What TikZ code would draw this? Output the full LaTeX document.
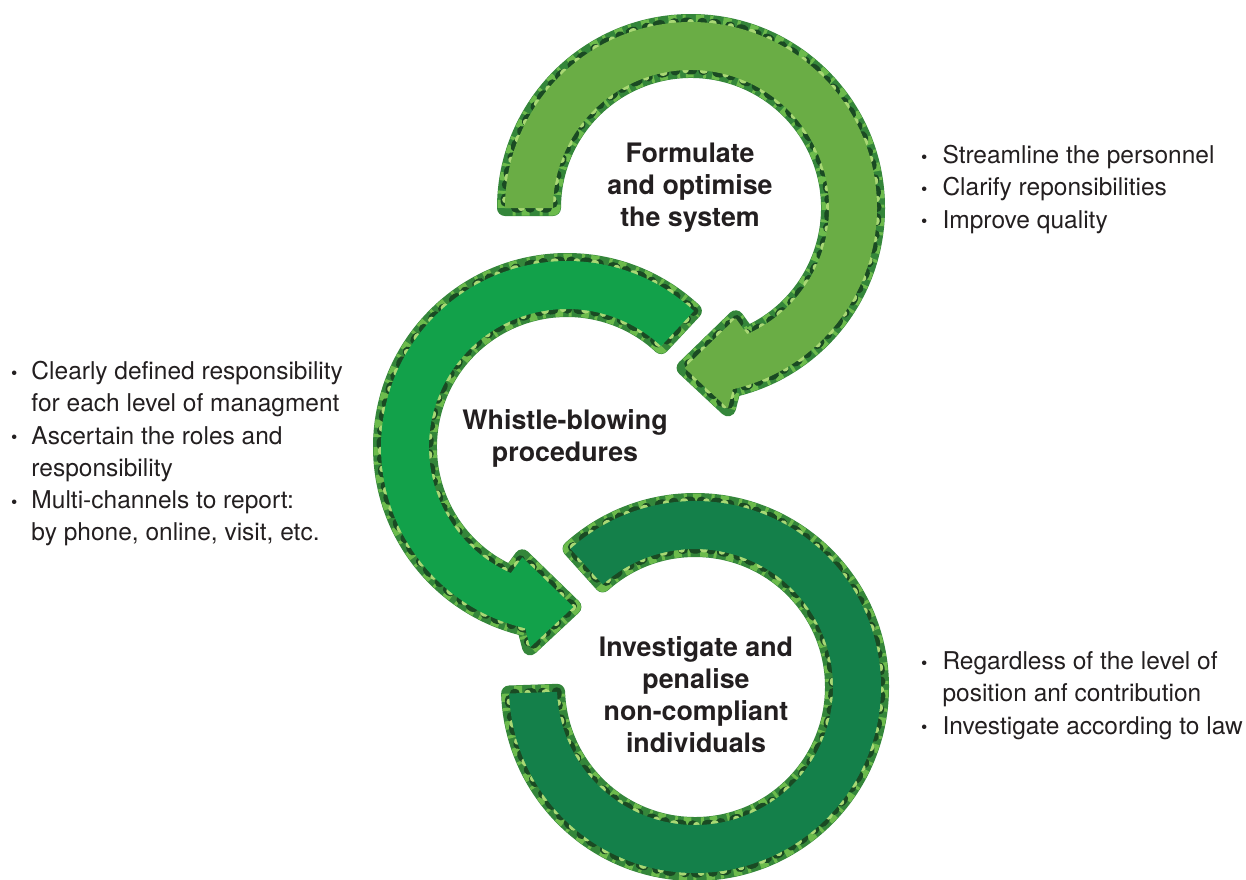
\documentclass[tikz,border=0pt]{standalone}
\usepackage{fontspec}
\setmainfont{TeX Gyre Heros}
\definecolor{fillone}{HTML}{6AAD45}
\definecolor{filltwo}{HTML}{12A14A}
\definecolor{fillthree}{HTML}{14804A}
\definecolor{lfA}{HTML}{34863A}
\definecolor{lfB}{HTML}{6CBB4C}
\definecolor{lfC}{HTML}{1A4A23}
\definecolor{lfD}{HTML}{A9D874}
\definecolor{ink}{HTML}{231F20}
\newcommand\bl{\raisebox{0.5pt}{\fontsize{18}{18}\selectfont\textbullet}}
\begin{document}
\begin{tikzpicture}[x=1pt,y=-1pt,
  leafa/.style={draw=lfA,line width=16pt,line join=round},
  leafb/.style={draw=lfB,line width=15pt,line join=round,dash pattern=on 8pt off 6pt on 3pt off 10pt},
  leafc/.style={draw=lfC,line width=9pt,line join=round,line cap=round,dash pattern=on 1pt off 10pt on 4pt off 13pt,dash phase=5pt},
  leafd/.style={draw=lfD,line width=6pt,line join=round,line cap=round,dash pattern=on 2pt off 17pt on 0.5pt off 21pt,dash phase=11pt},
  bodyone/.style={fill=fillone},
  bodytwo/.style={fill=filltwo},
  bodythree/.style={fill=fillthree},
  title/.style={font=\fontsize{26.8}{32}\selectfont\bfseries,text=ink,align=center,inner sep=0pt},
  blist/.style={font=\fontsize{24.5}{32.2}\selectfont,text=ink,anchor=north west,inner sep=0pt},
]
\useasboundingbox (0,0) rectangle (1246,879);
\coordinate (c1) at (691,208);
\coordinate (c2) at (567,447);
\coordinate (c3) at (695,687);

% arrow 1 (top, light green)
\foreach \st in {leafa,leafb,leafc,leafd,bodyone}
  \path[\st] ([shift={(180:186)}]c1) arc[start angle=180,end angle=437,radius=186]
    -- ([shift={(36.9,200.3)}]c1) -- ([shift={(-6.4,159.9)}]c1) -- ([shift={(44.7,110.3)}]c1)
    -- ([shift={(426:138)}]c1) arc[start angle=426,end angle=180,radius=138] -- cycle;

% arrow 2 (middle, green)
\foreach \st in {leafa,leafb,leafc,leafd,bodytwo}
  \path[\st] ([shift={(-47:186)}]c2) arc[start angle=-47,end angle=-257,radius=186]
    -- ([shift={(-36.9,200.3)}]c2) -- ([shift={(6.4,159.9)}]c2) -- ([shift={(-44.7,110.3)}]c2)
    -- ([shift={(-246:138)}]c2) arc[start angle=-246,end angle=-47,radius=138] -- cycle;

% arrow 3 (bottom, dark green)
\foreach \st in {leafa,leafb,leafc,leafd,bodythree}
  \path[\st] ([shift={(178:186)}]c3) arc[start angle=178,end angle=-132,radius=186]
    -- ([shift={(-132:138)}]c3) arc[start angle=-132,end angle=178,radius=138] -- cycle;

\node[title] (t1) at (690,188) {Formulate\\and optimise\\the system};
\node[title] (t2) at (565,438) {Whistle-blowing\\procedures};
\node[title] (t3) at (696,695) {Investigate and\\penalise\\non-compliant\\individuals};

\node[blist] (r1) at (921,141) {\begin{tabular}{@{}l@{\hspace{15pt}}l@{}}
\bl & Streamline the personnel\\
\bl & Clarify reponsibilities\\
\bl & Improve quality
\end{tabular}};

\node[blist] (l1) at (11,357) {\begin{tabular}{@{}l@{\hspace{14pt}}l@{}}
\bl & Clearly defined responsibility\\
 & for each level of managment\\
\bl & Ascertain the roles and\\
 & responsibility\\
\bl & Multi-channels to report:\\
 & by phone, online, visit, etc.
\end{tabular}};

\node[blist] (r2) at (921,647) {\begin{tabular}{@{}l@{\hspace{15pt}}l@{}}
\bl & Regardless of the level of\\
 & position anf contribution\\
\bl & Investigate according to law
\end{tabular}};
\end{tikzpicture}
\end{document}
